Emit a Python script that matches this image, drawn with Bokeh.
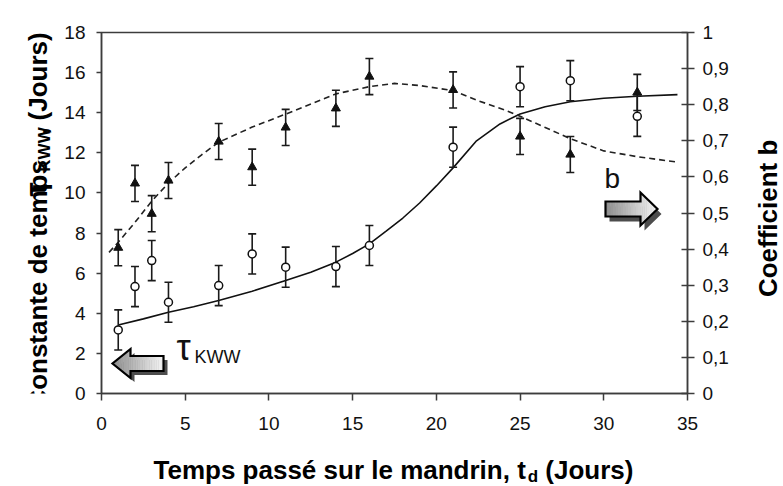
import math
from bokeh.plotting import figure
from bokeh.layouts import row, column
from bokeh.models import Range1d, LinearAxis, FixedTicker, Label, CustomJSTickFormatter
from bokeh.embed import file_html
from bokeh.resources import INLINE

# ---------------- data ----------------
td = [1, 2, 3, 4, 7, 9, 11, 14, 16, 21, 25, 28, 32]
tau_kww = [3.17, 5.33, 6.63, 4.55, 5.38, 6.96, 6.30, 6.33, 7.38, 12.28, 15.30, 15.60, 13.82]
tau_err = [1.0, 1.0, 1.0, 1.0, 1.0, 1.0, 1.0, 1.0, 1.0, 1.0, 1.0, 1.0, 1.0]
b_coef = [0.404, 0.582, 0.498, 0.590, 0.698, 0.627, 0.737, 0.790, 0.878, 0.841, 0.712, 0.662, 0.834]
b_err = [0.05, 0.05, 0.05, 0.05, 0.05, 0.05, 0.05, 0.05, 0.05, 0.05, 0.05, 0.05, 0.05]

tau_fit_td = [1, 2.5, 4, 5.5, 7, 9, 11, 12.5, 14, 15, 16, 17, 18, 19, 20, 21, 22.4, 23.8, 25, 26.5, 28, 30, 32, 34.4]
tau_fit = [3.42, 3.72, 4.05, 4.33, 4.64, 5.10, 5.63, 6.05, 6.55, 6.98, 7.46, 8.10, 8.75, 9.50, 10.35, 11.25, 12.60, 13.44, 13.94, 14.30, 14.55, 14.72, 14.82, 14.90]

b_fit_td = [0.45, 1, 2, 3, 4, 5, 6, 7, 9, 11, 14, 16, 17.5, 19, 21, 22.5, 24, 25, 26.5, 28, 30, 32, 34.4]
b_fit = [0.391, 0.419, 0.474, 0.533, 0.583, 0.625, 0.662, 0.696, 0.738, 0.774, 0.830, 0.850, 0.859, 0.853, 0.839, 0.811, 0.787, 0.768, 0.737, 0.706, 0.672, 0.656, 0.641]

x_ticks = [0, 5, 10, 15, 20, 25, 30, 35]
tau_ticks = [0, 2, 4, 6, 8, 10, 12, 14, 16, 18]
b_ticks = [0, 0.1, 0.2, 0.3, 0.4, 0.5, 0.6, 0.7, 0.8, 0.9, 1.0]

FONT = "Liberation Sans"
AXC = "#3c3c3c"
BSHIFT = 0.34   # empirical baseline correction (fraction of font size)

# ---------------- layout geometry (page pixels; page origin at 0,0) ----------------
TOT_W, TOT_H = 783, 486
LW, RW = 56, 43                 # widths of the left / right title strips
MAIN_W = TOT_W - LW - RW
MAIN_H = 435
BOT_H = TOT_H - MAIN_H
FL, FR, FT, FB = 101.0, 687.0, 32.0, 393.0   # plot frame in page px

p = figure(width=MAIN_W, height=MAIN_H, x_range=Range1d(0, 35), y_range=Range1d(0, 18),
           output_backend="svg", toolbar_location=None,
           min_border_left=int(FL - LW), min_border_right=int(LW + MAIN_W - FR),
           min_border_top=int(FT), min_border_bottom=int(MAIN_H - FB))
p.extra_y_ranges = {"b": Range1d(0, 1)}
p.grid.visible = False
p.outline_line_color = AXC
p.outline_line_width = 1.5
p.background_fill_color = "white"
p.border_fill_color = "white"

def px2x(px):
    return (px - FL) / (FR - FL) * 35.0
def py2y(py):
    return (FB - py) / (FB - FT) * 18.0

def style_axis(ax, tick_in, tick_out, standoff):
    ax.major_tick_out = tick_out
    ax.major_tick_in = tick_in
    ax.minor_tick_line_color = None
    ax.axis_line_color = AXC
    ax.axis_line_width = 1.5
    ax.major_tick_line_color = AXC
    ax.major_tick_line_width = 1.5
    ax.major_label_text_font = FONT
    ax.major_label_text_font_size = "19px"
    ax.major_label_text_color = "#111111"
    ax.major_label_standoff = standoff

xa = p.xaxis[0]
xa.ticker = FixedTicker(ticks=x_ticks)
style_axis(xa, 0, 7, 16)

ya = p.yaxis[0]
ya.ticker = FixedTicker(ticks=tau_ticks)
style_axis(ya, 0, 5, 11)

ra = LinearAxis(y_range_name="b", ticker=FixedTicker(ticks=b_ticks),
                formatter=CustomJSTickFormatter(code="return (Math.round(tick*10)/10).toString().replace('.', ',');"))
style_axis(ra, 6, 7, 8)
p.add_layout(ra, "right")

# ---------------- fitted curves ----------------
p.line(tau_fit_td, tau_fit, line_color="#111111", line_width=1.6)
p.line(b_fit_td, b_fit, line_color="#222222", line_width=1.6, line_dash="6 4", y_range_name="b")

# ---------------- error bars ----------------
tau_lo = [v - e for v, e in zip(tau_kww, tau_err)]
tau_hi = [v + e for v, e in zip(tau_kww, tau_err)]
b_lo = [v - e for v, e in zip(b_coef, b_err)]
b_hi = [v + e for v, e in zip(b_coef, b_err)]

p.segment(td, b_lo, td, b_hi, line_color="#1a1a1a", line_width=1.6, y_range_name="b")
p.scatter(td + td, b_lo + b_hi, marker="dash", size=8, line_color="#1a1a1a", line_width=1.6, y_range_name="b")
p.segment(td, tau_lo, td, tau_hi, line_color="#1a1a1a", line_width=1.6)
p.scatter(td + td, tau_lo + tau_hi, marker="dash", size=8, line_color="#1a1a1a", line_width=1.6)

# ---------------- markers ----------------
p.scatter(td, b_coef, marker="triangle", size=9, fill_color="#111111", line_color="#111111", y_range_name="b")
p.scatter(td, tau_kww, marker="circle", size=8, fill_color="white", line_color="#111111", line_width=1.5)

# ---------------- block arrows (pixel geometry, converted to data) ----------------
def hex_mix(c0, c1, t):
    a = [int(c0[i:i + 2], 16) for i in (1, 3, 5)]
    b = [int(c1[i:i + 2], 16) for i in (1, 3, 5)]
    return "#%02x%02x%02x" % tuple(int(round(a[k] + (b[k] - a[k]) * t)) for k in range(3))

def draw_arrow(tail, tip, cy, bh, hh, hlen, tail_col, tip_col, sdx, sdy):
    sgn = 1 if tip > tail else -1
    base = tip - sgn * hlen
    outline = [(tail, cy - bh), (base, cy - bh), (base, cy - hh), (tip, cy),
               (base, cy + hh), (base, cy + bh), (tail, cy + bh)]
    p.patch([px2x(x + sdx) for x, y in outline], [py2y(y + sdy) for x, y in outline],
            fill_color="#4d4d4d", line_color=None)
    xs, ys, cols = [], [], []
    nb, nh = 14, 8
    total = abs(tip - tail)
    for i in range(nb):
        xa_ = tail + (base - tail) * i / nb
        xb_ = tail + (base - tail) * (i + 1) / nb
        pts = [(xa_, cy - bh), (xb_, cy - bh), (xb_, cy + bh), (xa_, cy + bh)]
        xs.append([px2x(x) for x, y in pts]); ys.append([py2y(y) for x, y in pts])
        cols.append(hex_mix(tail_col, tip_col, abs((xa_ + xb_) / 2 - tail) / total))
    for i in range(nh):
        xa_ = base + (tip - base) * i / nh
        xb_ = base + (tip - base) * (i + 1) / nh
        ha = hh * (1 - i / nh)
        hb = hh * (1 - (i + 1) / nh)
        pts = [(xa_, cy - ha), (xb_, cy - hb), (xb_, cy + hb), (xa_, cy + ha)]
        xs.append([px2x(x) for x, y in pts]); ys.append([py2y(y) for x, y in pts])
        cols.append(hex_mix(tail_col, tip_col, abs((xa_ + xb_) / 2 - tail) / total))
    p.patches(xs, ys, fill_color=cols, line_color=cols, line_width=0.6)
    p.patch([px2x(x) for x, y in outline], [py2y(y) for x, y in outline],
            fill_color=None, line_color="#000000", line_width=2.2, line_join="miter")

draw_arrow(163, 112, 363, 7.5, 14.5, 18, "#f6f6f6", "#8c8c8c", 4, 4)
draw_arrow(605, 657, 208.5, 7.5, 16.5, 17, "#8c8c8c", "#f6f6f6", 4, 5)

# ---------------- in-plot labels ----------------
def plabel(px, py, text, size):
    return Label(x=px2x(px), y=py2y(py - BSHIFT * size), text=text, text_font=FONT,
                 text_font_size=f"{size}px", text_color="#111111",
                 text_baseline="alphabetic", text_align="left")

p.add_layout(plabel(176, 359, "τ", 36))
p.add_layout(plabel(194, 363, "KWW", 18))
p.add_layout(plabel(604, 188, "b", 28))

# ---------------- title strips (text-only figures, 1 unit = 1 px) ----------------
def text_fig(w, h):
    f = figure(width=w, height=h, x_range=Range1d(0, w), y_range=Range1d(0, h),
               output_backend="svg", toolbar_location=None, title=None,
               min_border=0, x_axis_location=None, y_axis_location=None)
    f.grid.visible = False
    f.outline_line_color = None
    f.background_fill_color = "white"
    f.border_fill_color = "white"
    return f

def tlabel(x, y, text, size, angle=0.0, align="left"):
    return Label(x=x, y=y, text=text, angle=angle,
                 text_font=FONT, text_font_style="bold", text_font_size=f"{size}px",
                 text_color="#000000", text_baseline="alphabetic", text_align=align)

TF, SF, GF = 26, 17, 32
rot = math.pi / 2

def ly(py):
    return MAIN_H - py

# left strip (page x 0..LW, y 0..MAIN_H); baseline on the right side of the glyphs
lf = text_fig(LW, MAIN_H)
bx = 46
seg = [("Constante de temps", TF, 9.835 * TF, 0),
       ("τ", GF, 0.62 * GF + 10, 0),
       ("KWW", SF, 2.61 * SF, 4),
       (", (Jours)", TF, 3.945 * TF, 0)]
ypos = 222 + (9.835 * TF + 0.62 * GF + 2.61 * SF + 3.945 * TF) / 2 + 20
for text, size, length, dx in seg:
    lf.add_layout(tlabel(bx + dx - BSHIFT * size, ly(ypos), text, size, rot))
    ypos -= length

# right strip (page x LW+MAIN_W .. TOT_W)
rf = text_fig(RW, MAIN_H)
rf.add_layout(tlabel(776 - (LW + MAIN_W) - BSHIFT * TF, ly(224), "Coefficient b", TF, rot, "center"))

# bottom strip (page y MAIN_H .. TOT_H)
bf = text_fig(TOT_W, BOT_H)
def by(py):
    return TOT_H - py
xsegs = [("Temps passé sur le mandrin, t", TF, 14.394 * TF, 0),
         ("d", SF, 0.611 * SF + 0.278 * TF, 4),
         ("(Jours)", TF, 3.389 * TF, 0)]
xlen = sum(s[2] for s in xsegs)
xpos = 393 - xlen / 2
for text, size, length, dy in xsegs:
    bf.add_layout(tlabel(xpos, by(478 + dy) + BSHIFT * size, text, size))
    xpos += length

layout = column(row(lf, p, rf, spacing=0), bf, spacing=0)
open("out.html", "w").write(file_html(layout, INLINE))
